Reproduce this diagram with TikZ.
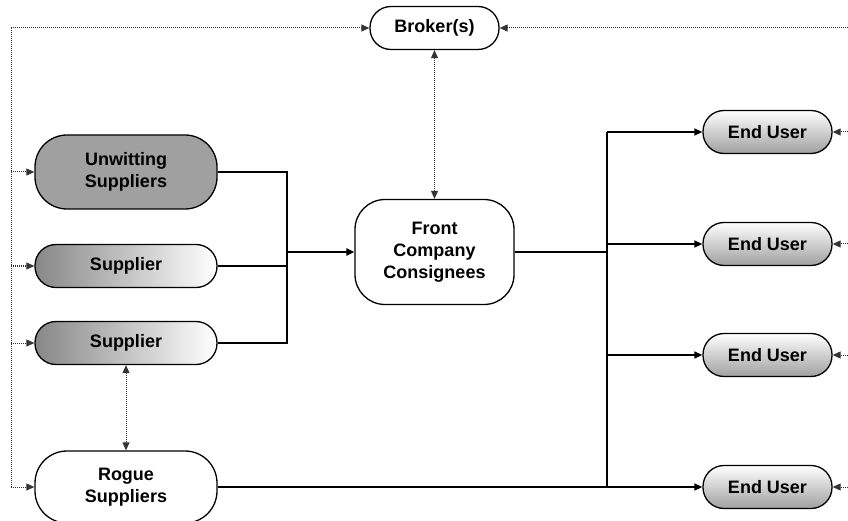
\documentclass[tikz,border=0pt]{standalone}
\usepackage{fontspec}
\setmainfont{Liberation Sans}
\usetikzlibrary{arrows.meta}
\begin{document}
\begin{tikzpicture}[x=1pt,y=-1pt,
  box/.style={draw=black, line width=1.3pt, rounded corners=#1, inner sep=0pt, align=center,
    font=\bfseries\fontsize{18}{22}\selectfont, text=black},
  box/.default=21pt,
  grayfill/.style={fill={rgb,255:red,160;green,160;blue,160}},
  hgrad/.style={left color={rgb,255:red,135;green,135;blue,135}, right color=white},
  vgrad/.style={top color=white, bottom color={rgb,255:red,160;green,160;blue,160}},
  conn/.style={line width=1.4pt, black},
  thickconn/.style={line width=2.2pt, black},
  dotline/.style={line width=1pt, black!80, dash pattern=on 1pt off 1pt},
  tip/.style={-{Triangle[length=8pt,width=7pt]}},
  tips/.style={{Triangle[length=8pt,width=7pt]}-{Triangle[length=8pt,width=7pt]}}
]
\useasboundingbox (0,0) rectangle (848,521);

% nodes
\node[box=21pt, minimum width=129pt, minimum height=43pt] (broker) at (434.5,28) {Broker(s)};
\node[box=30pt, minimum width=159pt, minimum height=105pt] (front) at (434.5,252) {Front\\Company\\Consignees};
\node[box=32pt, grayfill, minimum width=182pt, minimum height=74pt] (unw) at (126,172) {Unwitting\\Suppliers};
\node[box=21pt, hgrad, minimum width=182pt, minimum height=43pt] (sup1) at (126,266) {Supplier};
\node[box=21pt, hgrad, minimum width=182pt, minimum height=43pt] (sup2) at (126,343) {Supplier};
\node[box=32pt, fill=white, minimum width=182pt, minimum height=72pt] (rogue) at (126,487) {Rogue\\Suppliers};
\node[box=21pt, vgrad, minimum width=129pt, minimum height=43pt] (eu1) at (767.5,132) {End User};
\node[box=21pt, vgrad, minimum width=129pt, minimum height=43pt] (eu2) at (767.5,244) {End User};
\node[box=21pt, vgrad, minimum width=129pt, minimum height=43pt] (eu3) at (767.5,355) {End User};
\node[box=21pt, vgrad, minimum width=129pt, minimum height=43pt] (eu4) at (767.5,487) {End User};

% junction coordinates
\coordinate (jl) at (287,252);
\coordinate (jr) at (607,252);
\coordinate (jrtop) at (607,132);
\coordinate (jrbot) at (607,487);

% left merge
\draw[conn] (unw.east) -| (jl);
\draw[conn] (sup1.east) -- (sup1.east -| jl);
\draw[conn] (sup2.east) -| (jl);
\draw[thickconn, tip] (jl) -- (front.west);

% right split
\draw[thickconn] (front.east) -- (jr);
\draw[conn] (jrtop) -- (jrbot);
\draw[conn, tip] (jrtop) -- (eu1.west);
\draw[conn, tip] (eu2.west -| jr) -- (eu2.west);
\draw[conn, tip] (eu3.west -| jr) -- (eu3.west);
\draw[conn, tip] (rogue.east) -- (eu4.west);

% dotted feedback lines
\coordinate (tl) at (11,28);
\coordinate (bl) at (11,487);
\coordinate (tr) at (848,28);
\coordinate (l1) at (11,172);
\coordinate (l2) at (11,266);
\coordinate (l3) at (11,343);
\coordinate (r1) at (848,132);
\coordinate (r2) at (848,244);
\coordinate (r3) at (848,355);
\coordinate (r4) at (848,487);

\draw[dotline] (bl) -- (tl);
\draw[dotline, tip] (tl) -- (broker.west);
\draw[dotline, tip] (tr) -- (broker.east);
\draw[dotline, tip] (l1) -- (unw.west);
\draw[dotline, tip] (l2) -- (sup1.west);
\draw[dotline, tip] (l3) -- (sup2.west);
\draw[dotline, tip] (bl) -- (rogue.west);
\draw[dotline, tip] (r1) -- (eu1.east);
\draw[dotline, tip] (r2) -- (eu2.east);
\draw[dotline, tip] (r3) -- (eu3.east);
\draw[dotline, tip] (r4) -- (eu4.east);
\draw[dotline, tips] (broker.south) -- (front.north);
\draw[dotline, tips] (sup2.south) -- (rogue.north);
\end{tikzpicture}
\end{document}
